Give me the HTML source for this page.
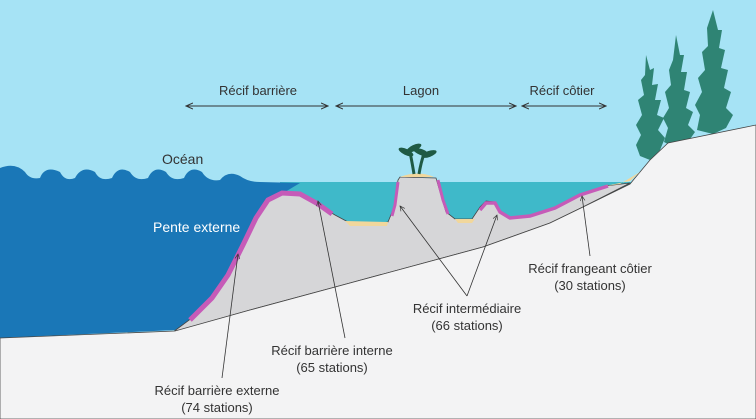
<!DOCTYPE html>
<html><head><meta charset="utf-8"><style>
html,body{margin:0;padding:0;width:756px;height:419px;overflow:hidden;background:#a6e3f5}
svg{display:block}
text{font-family:"Liberation Sans",sans-serif;font-size:13px;fill:#333}
</style></head><body>
<svg width="756" height="419" viewBox="0 0 756 419">
<defs><marker id="a" markerWidth="8" markerHeight="8" refX="7" refY="4" orient="auto-start-reverse"><path d="M0,1 L7,4 L0,7" fill="none" stroke="#333" stroke-width="1"/></marker>
<marker id="s" markerWidth="8" markerHeight="8" refX="7" refY="4" orient="auto"><path d="M1,1 L7,4 L1,7" fill="none" stroke="#333" stroke-width="0.8"/></marker></defs>
<rect width="756" height="419" fill="#a6e3f5"/>
<!-- lagoon -->
<path d="M280,182 L640,182 L640,260 L280,260 Z" fill="#3fb9c9"/>
<!-- ocean -->
<path d="M0,168 Q15,162 25,172 Q30,180 40,178 Q45,165 60,172 Q65,182 75,178 Q82,165 95,172 Q100,182 112,178 Q118,165 130,172 Q136,182 148,178 Q154,165 166,172 Q172,182 184,178 Q190,165 202,172 Q208,182 220,180 Q228,170 240,176 Q248,182 260,182 L300,183 L285,192 L268,200 L255,225 L240,262 L225,290 L205,312 L175,330 L0,338 Z" fill="#1a77b7"/>
<!-- reef gray -->
<path d="M173,332 L200,312 L222,285 L238,258 L252,228 L266,203 L282,194 L300,195 L318,205 L335,215 L348,222 L370,225 L388,222 L395,205 L398,180 L400,177 L436,178 L440,192 L446,212 L455,219 L472,219 L480,207 L486,201 L495,202 L500,212 L508,218 L530,216 L555,208 L580,195 L605,186 L630,183 L583,207 L550,223 L483,247 L350,283 L250,310 Z" fill="#d6d6d8" stroke="#444" stroke-width="0.8"/>
<!-- sand -->
<path d="M345,221 L388,222 L387,226 L350,226 Z" fill="#f1d79c"/>
<path d="M455,219 L475,219 L472,223 L458,223Z" fill="#f1d79c"/>
<path d="M400,177 Q418,170 434,177 Z" fill="#f1d79c"/>
<!-- pink layer -->
<path d="M190,320 L212,298 L228,275 L243,245 L256,218 L268,200 L282,193 L300,194 L318,204 L332,214" fill="none" stroke="#c65bb8" stroke-width="5"/>
<path d="M398,182 L395,205 L392,216" fill="none" stroke="#c65bb8" stroke-width="3"/>
<path d="M438,180 L443,200 L448,214" fill="none" stroke="#c65bb8" stroke-width="3"/>
<path d="M480,210 L486,203 L495,203 L500,212 L510,218 L530,216 L555,208 L580,195 L608,186" fill="none" stroke="#c65bb8" stroke-width="3.5"/>
<!-- trees -->
<g fill="#2f8474">
<path d="M646,55 L650,70 L654,68 L652,85 L658,84 L655,100 L661,100 L657,115 L664,118 L658,130 L665,138 L660,150 L650,160 L640,156 L636,145 L641,135 L636,125 L642,115 L638,100 L644,95 L641,80 L645,75 Z"/>
<path d="M676,35 L680,55 L684,55 L681,72 L687,72 L684,90 L690,92 L686,108 L693,112 L688,125 L695,132 L688,142 L676,148 L664,142 L668,128 L663,118 L669,108 L665,92 L671,85 L669,70 L673,60 Z"/>
<path d="M713,10 L718,30 L722,30 L719,48 L725,50 L721,68 L728,70 L724,88 L731,92 L726,108 L733,115 L726,128 L713,134 L697,130 L700,115 L695,105 L702,92 L698,78 L705,70 L702,52 L708,46 L707,28 Z"/>
</g>
<!-- land -->
<path d="M0,338 L175,331 L250,310 L350,283 L483,247 L550,223 L583,207 L630,184 L650,160 L668,143 L756,125 L756,419 L0,419 Z" fill="#f3f3f4" stroke="#444" stroke-width="0.8"/>
<path d="M605,186 L630,181 L640,172 L620,184 Z" fill="#f1d79c"/>
<!-- palm -->
<g stroke="#1f5a44" stroke-width="3" fill="none"><path d="M414,174 Q412,162 410,152 M419,174 Q421,162 424,154"/></g>
<g fill="#1f5a44"><ellipse cx="406" cy="152" rx="8" ry="3" transform="rotate(25 406 152)"/><ellipse cx="414" cy="148" rx="8" ry="3" transform="rotate(-25 414 148)"/><ellipse cx="421" cy="152" rx="8" ry="3" transform="rotate(20 421 152)"/><ellipse cx="429" cy="154" rx="8" ry="3" transform="rotate(-20 429 154)"/></g>
<!-- top arrows -->
<g stroke="#333" stroke-width="1">
<line x1="186" y1="106" x2="328" y2="106" marker-start="url(#a)" marker-end="url(#a)"/>
<line x1="336" y1="106" x2="516" y2="106" marker-start="url(#a)" marker-end="url(#a)"/>
<line x1="522" y1="106" x2="606" y2="106" marker-start="url(#a)" marker-end="url(#a)"/>
</g>
<text x="258" y="95" text-anchor="middle">Récif barrière</text>
<text x="421" y="95" text-anchor="middle">Lagon</text>
<text x="562" y="95" text-anchor="middle">Récif côtier</text>
<text x="162" y="164" style="font-size:14px">Océan</text>
<text x="153" y="232" style="fill:#fff;font-size:14px">Pente externe</text>
<!-- leaders -->
<g stroke="#333" stroke-width="0.8">
<line x1="222" y1="378" x2="238" y2="254" marker-end="url(#s)"/>
<line x1="345" y1="338" x2="318" y2="201" marker-end="url(#s)"/>
<line x1="467" y1="296" x2="400" y2="206" marker-end="url(#s)"/>
<line x1="467" y1="296" x2="497" y2="215" marker-end="url(#s)"/>
<line x1="590" y1="256" x2="582" y2="196" marker-end="url(#s)"/>
</g>
<text x="217" y="395" text-anchor="middle">Récif barrière externe</text>
<text x="217" y="412" text-anchor="middle">(74 stations)</text>
<text x="332" y="355" text-anchor="middle">Récif barrière interne</text>
<text x="332" y="372" text-anchor="middle">(65 stations)</text>
<text x="467" y="313" text-anchor="middle">Récif intermédiaire</text>
<text x="467" y="330" text-anchor="middle">(66 stations)</text>
<text x="590" y="273" text-anchor="middle">Récif frangeant côtier</text>
<text x="590" y="290" text-anchor="middle">(30 stations)</text>
</svg>
</body></html>
